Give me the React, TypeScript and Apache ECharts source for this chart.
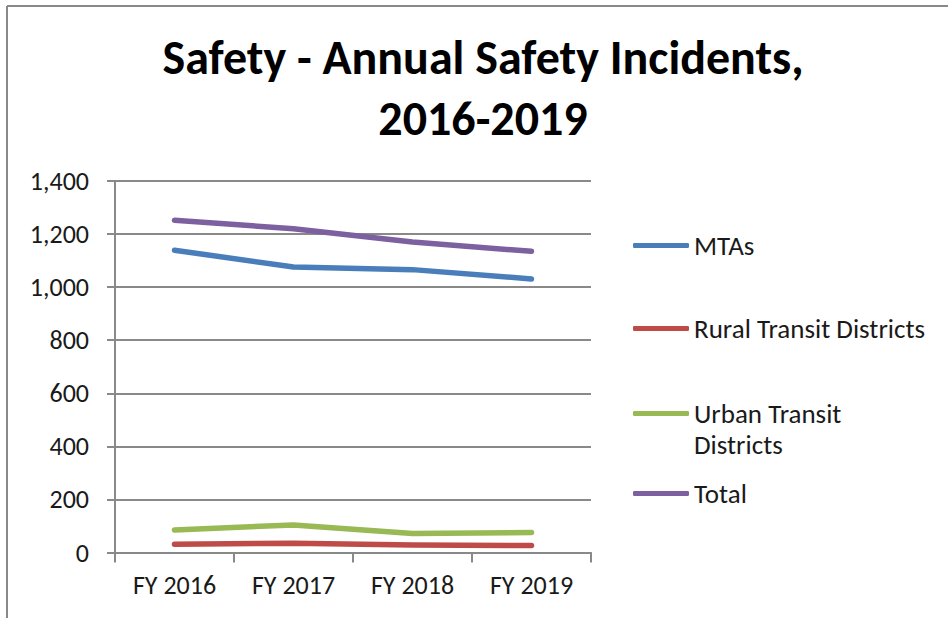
import React, { useEffect, useRef } from "react";
import * as echarts from "echarts";

const categories = ["FY 2016", "FY 2017", "FY 2018", "FY 2019"];
const mtas = [1139, 1076, 1066, 1031];
const rural = [31, 35, 28, 26];
const urban = [85, 104, 72, 75];
const total = [1252, 1220, 1170, 1135];
const seriesNames = ["MTAs", "Rural Transit Districts", "Urban Transit Districts", "Total"];
const colors = ["#4A7EBB", "#BE4B48", "#98B954", "#7D60A0"];
const titleText = "Safety - Annual Safety Incidents,\n2016-2019";

const FONT = "Carlito, Calibri, Lato, 'Noto Sans', sans-serif";
const GRAY = "#898989";

export default function App() {
  const ref = useRef<HTMLDivElement>(null);
  useEffect(() => {
    if (!ref.current) return;
    const chart = echarts.init(ref.current, undefined, { renderer: "svg" });
    const values = [mtas, rural, urban, total];
    const legendTops = [230, 313, 367, 478];
    const legendText = {
      fontFamily: FONT,
      fontSize: 27,
      color: "#1a1a1a",
      lineHeight: 31,
    };
    chart.setOption({
      animation: false,
      backgroundColor: "#ffffff",
      title: {
        text: titleText,
        left: 483,
        top: 27,
        padding: 0,
        textAlign: "center",
        textStyle: {
          fontFamily: FONT,
          fontWeight: "bold",
          fontSize: 48,
          lineHeight: 61,
          color: "#000000",
        },
      },
      graphic: [
        { type: "line", shape: { x1: 7, y1: 6, x2: 948, y2: 6 }, style: { stroke: GRAY, lineWidth: 2 } },
        { type: "line", shape: { x1: 7, y1: 6, x2: 7, y2: 618 }, style: { stroke: GRAY, lineWidth: 2 } },
      ],
      legend: seriesNames.map((name, i) => ({
        data: [name],
        orient: "vertical",
        left: 633,
        top: legendTops[i],
        padding: 0,
        itemWidth: 56,
        itemHeight: 5,
        icon: "roundRect",
        selectedMode: false,
        formatter: i === 2 ? " \nUrban Transit\nDistricts" : "{name}",
        textStyle: legendText,
      })),
      grid: { left: 115, right: 357, top: 181, bottom: 65.5, containLabel: false },
      xAxis: {
        type: "category",
        data: categories,
        boundaryGap: true,
        axisLine: { show: true, lineStyle: { color: GRAY, width: 2 } },
        axisTick: { show: true, length: 10, lineStyle: { color: GRAY, width: 2 } },
        axisLabel: { fontFamily: FONT, fontSize: 26, color: "#1a1a1a", margin: 19 },
        splitLine: { show: false },
      },
      yAxis: {
        type: "value",
        min: 0,
        max: 1400,
        interval: 200,
        axisLine: { show: true, lineStyle: { color: GRAY, width: 2 } },
        axisTick: { show: true, length: 8, lineStyle: { color: GRAY, width: 2 } },
        axisLabel: {
          fontFamily: FONT,
          fontSize: 26,
          color: "#1a1a1a",
          margin: 26,
          formatter: (v: number) => v.toLocaleString("en-US"),
        },
        splitLine: { show: true, lineStyle: { color: GRAY, width: 2 } },
      },
      series: seriesNames.map((name, i) => ({
        name,
        type: "line",
        data: values[i],
        showSymbol: false,
        symbol: "none",
        color: colors[i],
        lineStyle: { color: colors[i], width: 5.5, cap: "round", join: "round" },
        itemStyle: { color: colors[i] },
      })),
    });
    return () => chart.dispose();
  }, []);
  return <div ref={ref} style={{ width: 948, height: 618, position: "absolute", left: 0, top: 0 }} />;
}
